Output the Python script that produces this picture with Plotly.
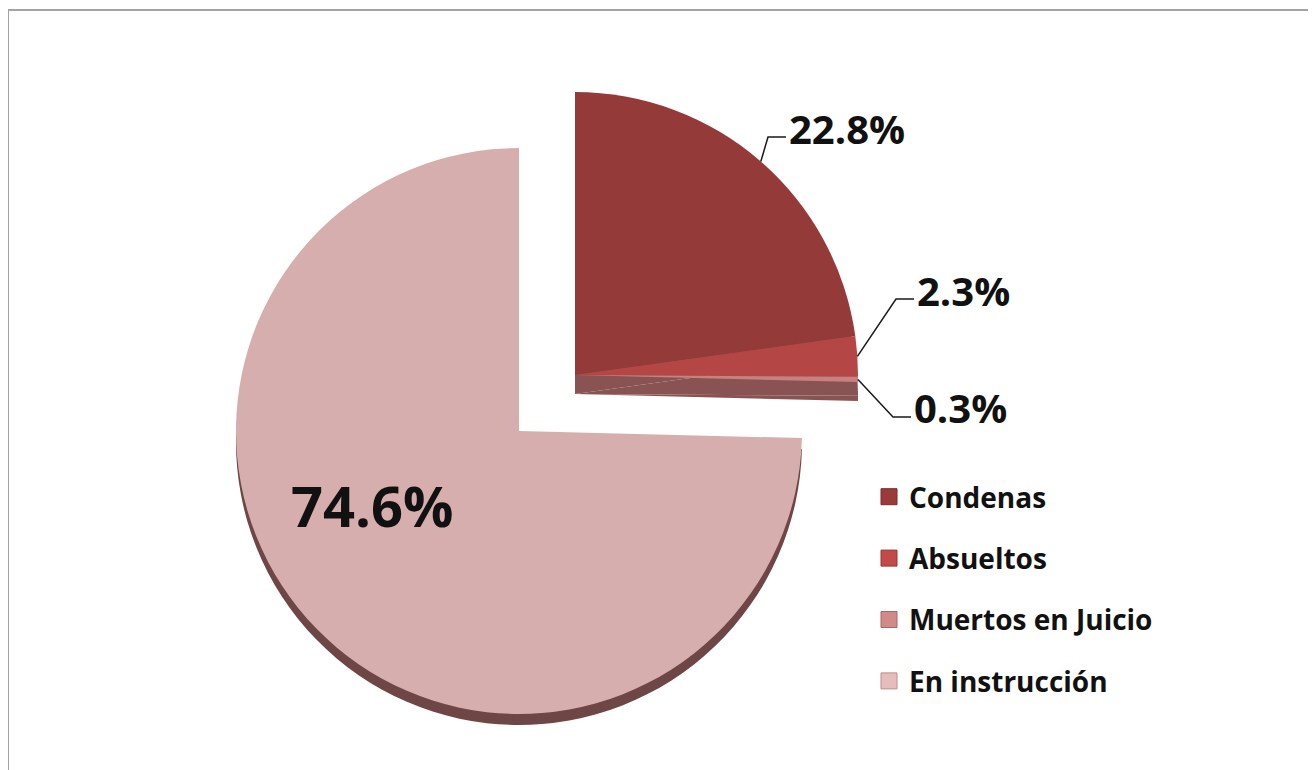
import math
import plotly.graph_objects as go

# data
labels = ["Condenas", "Absueltos", "Muertos en Juicio", "En instrucción"]
values = [22.8, 2.3, 0.3, 74.6]
pulled = [True, True, True, False]

face_colors = ["#943B39", "#B44745", "#C8817E", "#D5AEAD"]
legend_colors = ["#9A3B39", "#C04B48", "#D08A88", "#E6BDBB"]
legend_edges = ["#7A2A28", "#9A3633", "#A86664", "#B98F8D"]

# layout (pixels, measured on the target picture)
W, H = 1316, 770
PAGE_OFF = 8          # browser body margin
R = 283
MAIN_C = (519, 431)
PULL_C = (575, 375)
MAIN_DEPTH = 11
PULL_DEPTH = 19
CLEAR = "rgba(0,0,0,0)"
FONT = "Open Sans"


def px(x, y):
    return (x - PAGE_OFF) / W, 1 - (y - PAGE_OFF) / H


def dom(cx, cy):
    x0, y1 = px(cx - R, cy - R)
    x1, y0 = px(cx + R, cy + R)
    return dict(x=[x0, x1], y=[y0, y1])


def pie(colors, center, hover=False):
    return go.Pie(
        labels=labels, values=values, sort=False, direction="clockwise", rotation=0,
        domain=dom(*center), marker=dict(colors=colors, line=dict(width=0)),
        textinfo="none", hoverinfo="label+percent" if hover else "skip", showlegend=False,
    )


fig = go.Figure()

# 3D rim of the main pie, then its top face
fig.add_trace(pie([CLEAR if p else "#6E4646" for p in pulled], (MAIN_C[0], MAIN_C[1] + MAIN_DEPTH)))
fig.add_trace(pie([CLEAR if p else c for p, c in zip(pulled, face_colors)], MAIN_C, hover=True))
# exploded wedge: rim, then top face
fig.add_trace(pie(["#8A5353" if p else CLEAR for p in pulled], (PULL_C[0], PULL_C[1] + PULL_DEPTH)))
fig.add_trace(pie([c if p else CLEAR for p, c in zip(pulled, face_colors)], PULL_C, hover=True))

# legend entries
for name, col, edge in zip(labels, legend_colors, legend_edges):
    fig.add_trace(go.Scatter(
        x=[None], y=[None], mode="markers", name=name, legendgroup=name,
        marker=dict(symbol="square", size=16, color=col, line=dict(color=edge, width=1)),
    ))

# leader lines + labels for the exploded slices
total = sum(values)
label_ends = [(786, 137), (914, 299), (911, 417)]
shapes = []
annotations = []
cum = 0.0
k = 0
for v, p in zip(values, pulled):
    mid = (cum + v / 2) / total * 2 * math.pi
    cum += v
    if not p:
        continue
    ax = PULL_C[0] + R * math.sin(mid)
    ay = PULL_C[1] - R * math.cos(mid)
    ex, ey = label_ends[k]
    bx = ex - 18
    pts = [px(ax, ay), px(bx, ey), px(ex, ey)]
    path = "M {} {} L {} {} L {} {}".format(*[c for pt in pts for c in pt])
    shapes.append(dict(type="path", xref="paper", yref="paper", path=path,
                       line=dict(color="#1A1A1A", width=1.5)))
    tx, ty = px(ex + 1, ey - 9)
    annotations.append(dict(x=tx, y=ty, xref="paper", yref="paper", xanchor="left", yanchor="middle",
                            text=f"{v:.1f}%", showarrow=False,
                            font=dict(family=FONT, size=40, color="#111111", weight="bold")))
    k += 1

# big label inside En instrucción
bx_, by_ = px(372, 505)
annotations.append(dict(x=bx_, y=by_, xref="paper", yref="paper", xanchor="center", yanchor="middle",
                        text=f"{values[3]:.1f}%", showarrow=False,
                        font=dict(family=FONT, size=56, color="#111111", weight="bold")))

# chart frame
fx0, fy0 = px(8, 10)
shapes.append(dict(type="rect", xref="paper", yref="paper", x0=fx0, y0=fy0, x1=1.05, y1=-0.05,
                   line=dict(color="#A3A3A3", width=2), fillcolor=CLEAR))

lx, ly = px(869, 472)
fig.update_layout(
    width=W, height=H,
    margin=dict(l=0, r=0, t=0, b=0),
    paper_bgcolor="white", plot_bgcolor=CLEAR,
    xaxis=dict(visible=False), yaxis=dict(visible=False),
    showlegend=True,
    legend=dict(x=lx, y=ly, xanchor="left", yanchor="top", traceorder="grouped",
                tracegroupgap=22, bgcolor=CLEAR,
                font=dict(family=FONT, size=28, color="#111111", weight="bold")),
    shapes=shapes,
    annotations=annotations,
)

fig.write_html("out.html")
